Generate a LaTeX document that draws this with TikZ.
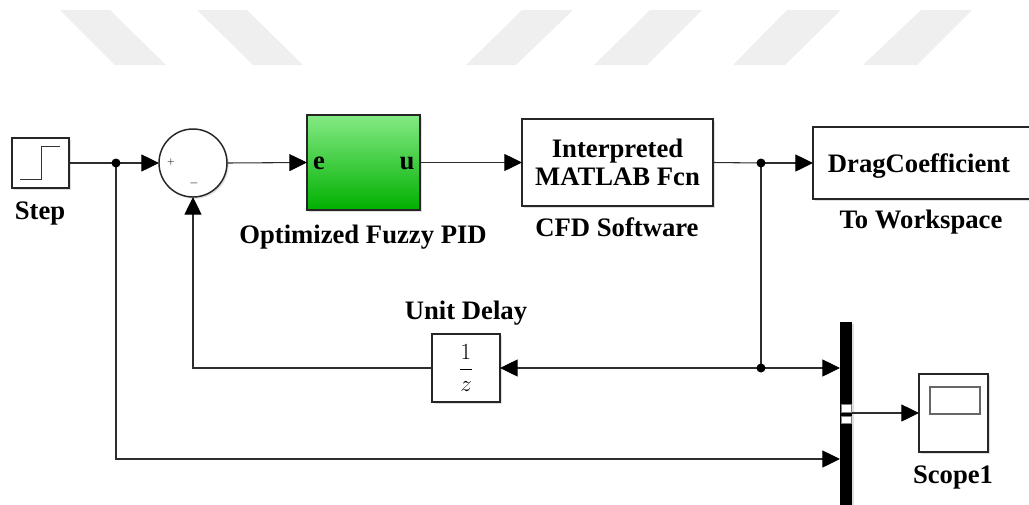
\documentclass[tikz,border=0pt]{standalone}
\usepackage{fontspec}
\setmainfont{Liberation Serif}
\usetikzlibrary{arrows.meta,shadows}
\definecolor{wmark}{RGB}{239,239,239}
\definecolor{pidtop}{RGB}{132,234,132}
\definecolor{pidbot}{RGB}{0,176,0}
\definecolor{wirec}{RGB}{45,45,45}
\begin{document}
\begin{tikzpicture}[x=0.75pt,y=-0.75pt,
  blk/.style={draw=black!85, line width=1.1pt, fill=white, inner sep=0pt, outer sep=0pt,
    drop shadow={opacity=0.25, shadow xshift=1.3pt, shadow yshift=-1.3pt}},
  lbl/.style={font=\fontsize{20}{24}\selectfont\bfseries, anchor=base, inner sep=0pt},
  wire/.style={draw=wirec, line width=0.8pt},
  sig/.style={wire, -{Triangle[length=13.2pt,width=12.75pt,color=black,fill=black]}},
  jdot/.style={circle, fill=black, minimum size=6.75pt, inner sep=0pt}
]
\clip (0,0) rectangle (1029,504);
% watermark stripes
\fill[wmark] (60,10) -- (110,10) -- (166,65) -- (115,65) -- cycle;
\fill[wmark] (197,10) -- (247,10) -- (303,65) -- (253,65) -- cycle;
\fill[wmark] (522,10) -- (573,10) -- (516,65) -- (466,65) -- cycle;
\fill[wmark] (650,10) -- (702,10) -- (647,65) -- (594,65) -- cycle;
\fill[wmark] (787,10) -- (841,10) -- (785,65) -- (733,65) -- cycle;
\fill[wmark] (921,10) -- (972,10) -- (917,65) -- (863,65) -- cycle;

% blocks
\node[blk, minimum width=57*0.75pt, minimum height=50*0.75pt] (step) at (40.5,163) {};
\draw[black!80, line width=0.7pt] (20,179) -- (41,179) -- (41,146) -- (60,146);

\node[blk, circle, minimum size=68*0.75pt] (sum) at (193,163) {};
\node[font=\fontsize{10}{10}\selectfont, text=black!70, inner sep=0pt] (plus) at (171,163) {+};
\node[font=\fontsize{10}{10}\selectfont, text=black!70, inner sep=0pt] (minus) at (194,185) {--};

\node[blk, top color=pidtop, bottom color=pidbot, minimum width=113*0.75pt, minimum height=95*0.75pt] (pid) at (363.5,162.5) {};
\node[lbl] (pe) at (319,169) {e};
\node[lbl] (pu) at (407,169) {u};

\node[blk, minimum width=191*0.75pt, minimum height=87*0.75pt, font=\fontsize{20}{21}\selectfont\bfseries, align=center] (cfd) at (617.5,162.5) {Interpreted\\MATLAB Fcn};

\node[blk, minimum width=220*0.75pt, minimum height=72*0.75pt] (drag) at (923,163) {};
\node[lbl] (dragtxt) at (919,172) {DragCoefficient};

\node[blk, minimum width=68*0.75pt, minimum height=68*0.75pt, font=\fontsize{19}{22}\selectfont] (ud) at (466,368) {$\displaystyle\frac{1}{z}$};

\node[fill=black, inner sep=0pt, outer sep=0pt, minimum width=12*0.75pt, minimum height=200*0.75pt,
  drop shadow={opacity=0.25, shadow xshift=1.3pt, shadow yshift=-1.3pt}] (mux) at (846,422) {};
\filldraw[fill=white, draw=black!50, line width=0.5pt] (841.5,404) rectangle (851,412);
\filldraw[fill=white, draw=black!50, line width=0.5pt] (841.5,416) rectangle (851,423);

\node[blk, minimum width=69*0.75pt, minimum height=78*0.75pt] (scope) at (953.5,413) {};
\draw[black!60, line width=0.8pt] (930,387) rectangle (980,414);

% junctions and ports
\coordinate (j1) at (116,163);
\coordinate (j2) at (761,163);
\coordinate (j3) at (761,368);
\coordinate (m1) at (840,368);
\coordinate (m2) at (840,459);
\coordinate (mo) at (852,413);

% connectors
\draw[wire] (step.east) -- (j1);
\draw[sig] (j1) -- (sum.west);
\draw[sig] (sum.east) -- (pid.west);
\draw[sig] (pid.east) -- (cfd.west);
\draw[wire] (cfd.east) -- (j2);
\draw[sig] (j2) -- (drag.west);
\draw[wire] (j2) -- (j3);
\draw[sig] (j3) -- (ud.east);
\draw[sig] (j3) -- (m1);
\draw[sig] (ud.west) -| (sum.south);
\draw[sig] (j1) |- (m2);
\draw[sig] (mo) -- (scope.west);

\node[jdot] (d1) at (j1) {};
\node[jdot] (d2) at (j2) {};
\node[jdot] (d3) at (j3) {};

% labels
\node[lbl] (steplbl) at (40,219) {Step};
\node[lbl] (pidlbl) at (363,243) {Optimized Fuzzy PID};
\node[lbl] (cfdlbl) at (617,236) {CFD Software};
\node[lbl] (twlbl) at (921,228) {To Workspace};
\node[lbl] (udlbl) at (466,319) {Unit Delay};
\node[lbl] (scopelbl) at (953,483) {Scope1};
\end{tikzpicture}
\end{document}
